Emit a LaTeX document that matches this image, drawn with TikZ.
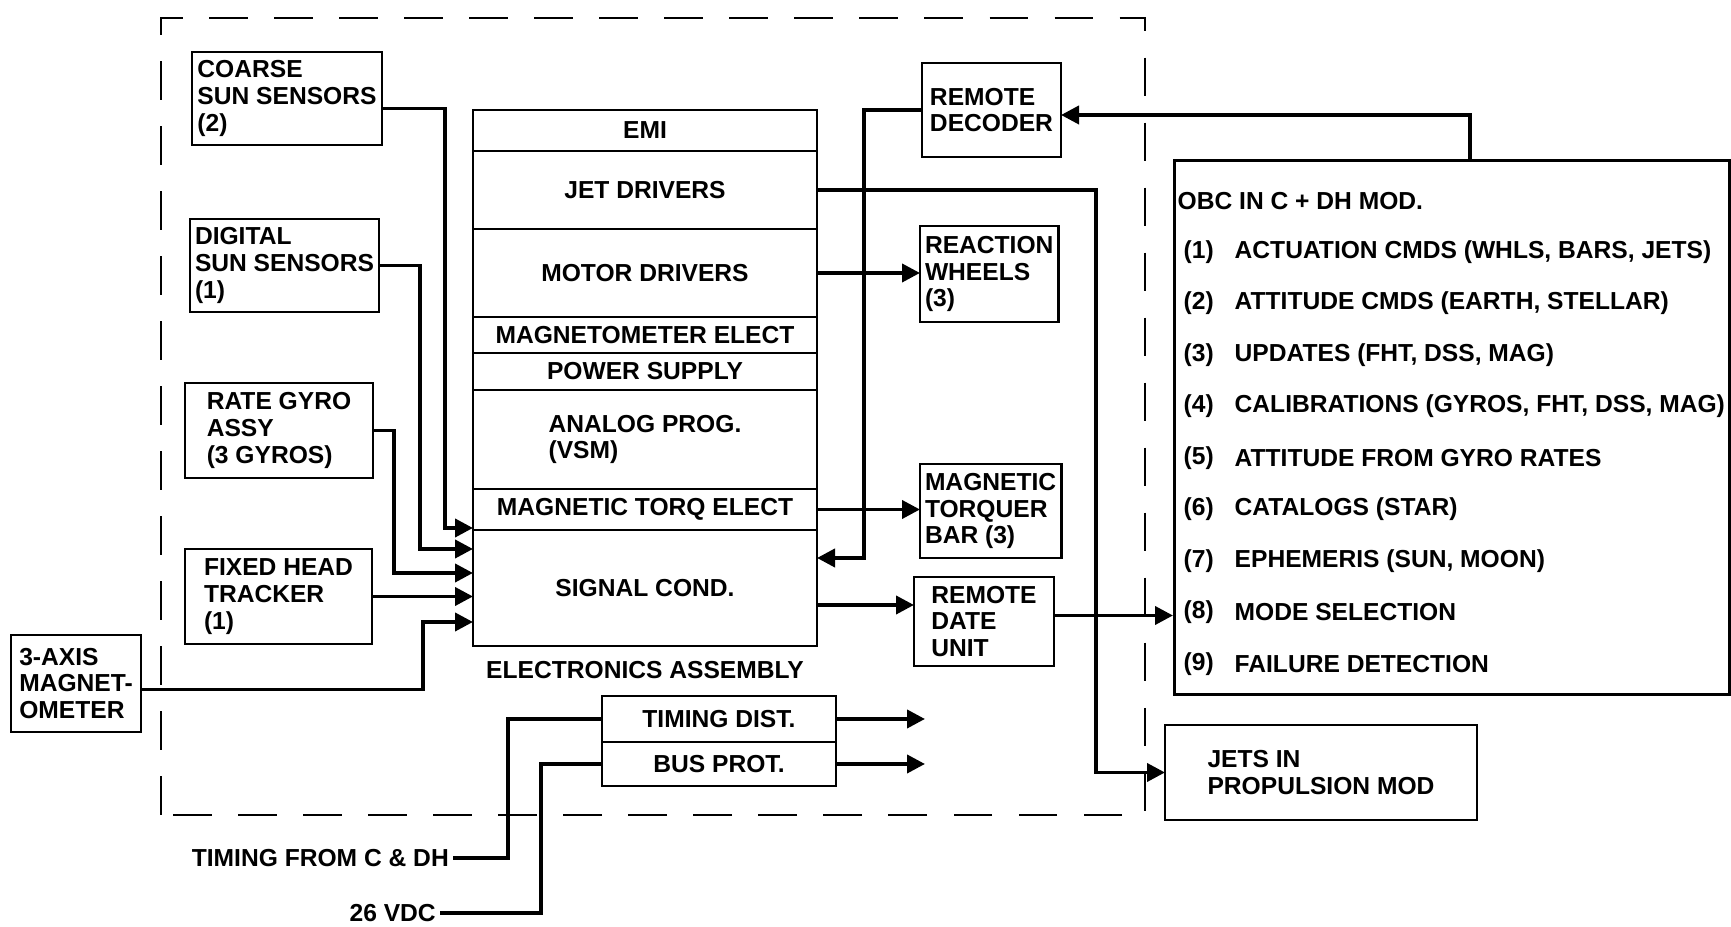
\documentclass[tikz,border=0pt]{standalone}
\usepackage{fontspec}
\setmainfont{Liberation Sans}
\usetikzlibrary{positioning,arrows.meta}
\tikzset{
  box/.style={draw,line width=0.8pt,inner xsep=0.5mm,inner ysep=0.3mm,outer sep=0pt,align=left,anchor=north west},
  elrow/.style={draw,line width=0.8pt,minimum width=3.44cm,inner sep=0pt,outer sep=0pt,align=left},
  wire/.style={line width=1.1pt},
  arr/.style={wire,-{Triangle[length=1.8mm,width=1.8mm]}},
  boundary/.style={line width=0.8pt,dash pattern=on 11pt off 7.5pt}
}

\begin{document}
\begin{tikzpicture}[font=\fontsize{7}{7.6}\selectfont\bfseries]
    \useasboundingbox (0,0) rectangle (17.31,9.27);
    \draw[boundary] (1.61,1.12) rectangle (11.45,9.09);

    \node[box,minimum width=1.90cm,minimum height=0.93cm] (css) at (1.92,8.75) {COARSE\\SUN SENSORS\\(2)};
    \node[box,minimum width=1.85cm,minimum height=0.93cm] (dss) at (1.90,7.08) {DIGITAL\\SUN SENSORS\\(1)};
    \node[box,minimum width=1.88cm,minimum height=0.95cm] (rga) at (1.85,5.44) {RATE GYRO\\ASSY\\(3 GYROS)};
    \node[box,minimum width=1.87cm,minimum height=0.95cm] (fht) at (1.85,3.78) {FIXED HEAD\\TRACKER\\(1)};
    \node[box,minimum width=1.30cm,minimum height=0.97cm] (tam) at (0.11,2.92) {3-AXIS\\MAGNET-\\OMETER};

    \node[elrow,minimum height=0.41cm,anchor=north west] (emi) at (4.73,8.17) {EMI};
    \node[elrow,minimum height=0.78cm,below=0pt of emi] (jet) {JET DRIVERS};
    \node[elrow,minimum height=0.88cm,below=0pt of jet] (motor) {MOTOR DRIVERS};
    \node[elrow,minimum height=0.36cm,below=0pt of motor] (magel) {MAGNETOMETER ELECT};
    \node[elrow,minimum height=0.37cm,below=0pt of magel] (psu) {POWER SUPPLY};
    \node[elrow,minimum height=0.99cm,below=0pt of psu] (analog) {ANALOG PROG.\\(VSM)};
    \node[elrow,minimum height=0.41cm,below=0pt of analog] (torq) {MAGNETIC TORQ ELECT};
    \node[elrow,minimum height=1.16cm,below=0pt of torq] (sig) {SIGNAL COND.};
    \node[below=0.3mm of sig] (ealbl) {ELECTRONICS ASSEMBLY};

    \node[box,minimum width=1.39cm,minimum height=0.94cm] (rdec) at (9.22,8.64) {REMOTE\\DECODER};
    \node[box,minimum width=1.38cm,minimum height=0.96cm] (rw) at (9.20,7.01) {REACTION\\WHEELS\\(3)};
    \node[box,minimum width=1.38cm,minimum height=0.94cm] (mtb) at (9.20,4.63) {MAGNETIC\\TORQUER\\BAR (3)};
    \node[box,minimum width=1.40cm,minimum height=0.89cm] (rdu) at (9.14,3.50) {REMOTE\\DATE\\UNIT};

    \node[box,minimum width=2.34cm,minimum height=0.46cm] (td) at (6.02,2.31) {TIMING DIST.};
    \node[box,minimum width=2.34cm,minimum height=0.44cm,below=0pt of td] (bp) {BUS PROT.};
    \node[anchor=east,inner sep=1pt] (tfc) at (4.53,0.69) {TIMING FROM C \& DH};
    \node[anchor=east,inner sep=1pt] (vdc) at (4.40,0.14) {26 VDC};

    \node[draw,line width=0.8pt,minimum width=5.55cm,minimum height=5.34cm,anchor=north west] (obc) at (11.73,7.68) {};
    \node[anchor=west,inner sep=0pt] (obct) at (11.77,7.26) {OBC IN C + DH MOD.};
    \foreach \n/\txt [count=\i] in {1/{ACTUATION CMDS (WHLS, BARS, JETS)},2/{ATTITUDE CMDS (EARTH, STELLAR)},
      3/{UPDATES (FHT, DSS, MAG)},4/{CALIBRATIONS (GYROS, FHT, DSS, MAG)},5/{ATTITUDE FROM GYRO RATES},
      6/{CATALOGS (STAR)},7/{EPHEMERIS (SUN, MOON)},8/{MODE SELECTION},9/{FAILURE DETECTION}}
    {
      \node[anchor=west,inner sep=0pt] (num\n) at (11.83,{6.75-0.515*(\i-1)}) {(\n)};
      \node[anchor=west,inner sep=0pt] (item\n) at (12.34,{6.75-0.515*(\i-1)}) {\txt};
    }
    \node[box,minimum width=3.12cm,minimum height=0.95cm] (jets) at (11.65,2.02) {JETS IN\\PROPULSION MOD};

    \coordinate (in1) at ([yshift=6mm]sig.west);
    \coordinate (in2) at ([yshift=3.9mm]sig.west);
    \coordinate (in3) at ([yshift=1.5mm]sig.west);
    \coordinate (in5) at ([yshift=-3.4mm]sig.west);
    \coordinate (rdin) at ([yshift=3mm]sig.east);
    \coordinate (s2) at ([yshift=-1.7mm]sig.east);
    \coordinate (r2) at ([yshift=0.6mm]rdu.east);
    \coordinate (tdend) at ([xshift=8.9mm]td.east);
    \coordinate (bpend) at ([xshift=8.9mm]bp.east);

    \draw[arr] ([yshift=-1mm]css.east) -| ([xshift=-2.8mm]in1) -- (in1);
    \draw[arr] (dss.east) -| ([xshift=-5.3mm]in2) -- (in2);
    \draw[arr] (rga.east) -| ([xshift=-7.9mm]in3) -- (in3);
    \draw[arr] (fht.east) -- (fht.east -| sig.west);
    \draw[arr] ([yshift=-0.6mm]tam.east) -| ([xshift=-5mm]in5) -- (in5);

    \draw[arr] (jet.east) -| ([xshift=-6.9mm]jets.west) -- (jets.west);
    \draw[arr] (motor.east) -- (motor.east -| rw.west);
    \draw[arr] (rdec.west) -| ([xshift=4.7mm]rdin) -- (rdin);
    \draw[arr] (torq.east) -- (torq.east -| mtb.west);
    \draw[arr] (s2) -- (s2 -| rdu.west);
    \draw[arr] (r2) -- (r2 -| obc.west);
    \draw[arr] ([xshift=1.8mm]obc.north) |- ([yshift=-0.5mm]rdec.east);

    \draw[arr] (td.east) -- (tdend);
    \draw[arr] (bp.east) -- (bpend);
    \draw[wire] (tfc.east) -| ([xshift=-9.4mm]td.west) -- (td.west);
    \draw[wire] (vdc.east) -| ([xshift=-6.1mm]bp.west) -- (bp.west);
\end{tikzpicture}
\end{document}
